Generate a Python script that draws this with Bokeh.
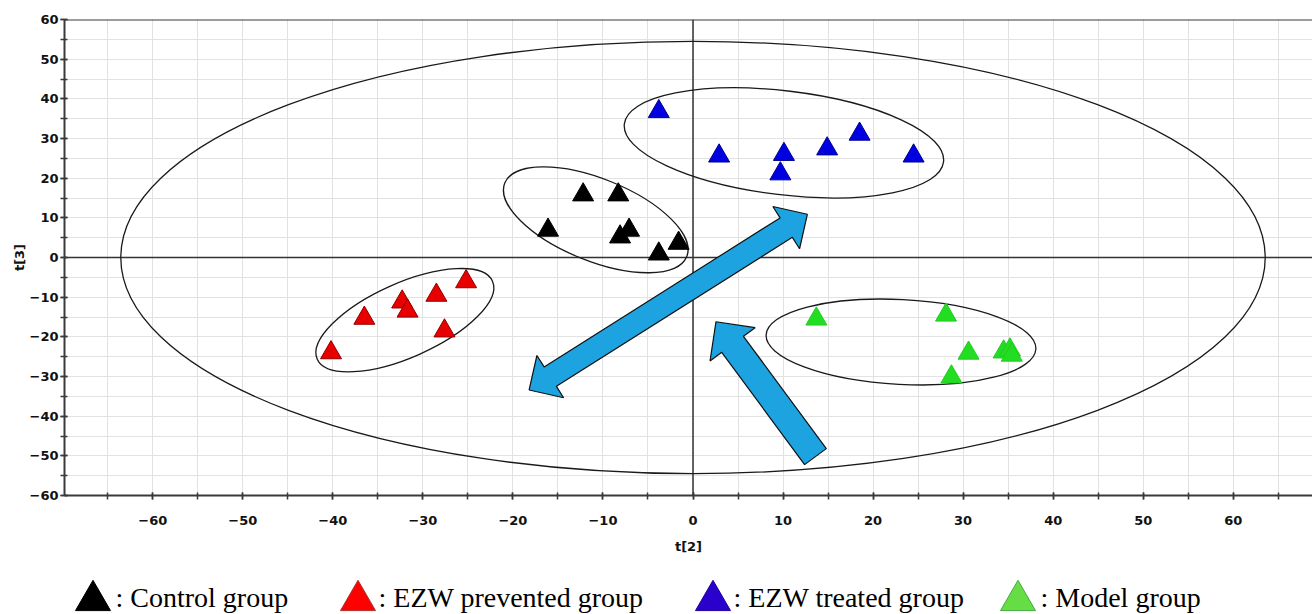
import math
from bokeh.plotting import figure
from bokeh.layouts import column
from bokeh.models import Range1d, Span, SingleIntervalTicker
from bokeh.core.properties import value
from bokeh.embed import file_html
from bokeh.resources import INLINE

# ---- data ----
control_x = [-16.1, -12.2, -8.3, -8.1, -7.1, -1.6, -3.8]
control_y = [6.9, 15.8, 15.8, 5.2, 6.9, 3.6, 0.9]
prevented_x = [-40.2, -36.5, -32.3, -31.7, -28.5, -27.6, -25.2]
prevented_y = [-24.0, -15.3, -11.2, -13.5, -9.5, -18.5, -6.1]
treated_x = [-3.8, 2.9, 10.1, 9.7, 14.9, 18.5, 24.5]
treated_y = [36.8, 25.6, 26.0, 21.1, 27.4, 31.1, 25.6]
model_x = [13.7, 28.1, 30.6, 28.7, 34.5, 35.2, 35.4]
model_y = [-15.5, -14.5, -24.1, -30.1, -23.8, -23.3, -24.6]

group_labels = [": Control group", ": EZW prevented group", ": EZW treated group", ": Model group"]
group_fill = ["#000000", "#e80000", "#0000e0", "#22dd22"]
group_line = ["#000000", "#900000", "#000090", "#22cc22"]
legend_fill = ["#000000", "#ff0000", "#2a00cc", "#66dd44"]
legend_line = ["#000000", "#b03030", "#20009a", "#44aa44"]

# ellipses: center x, center y, width (x units), height (y units), angle (deg, screen)
ell_x = [0.0, -32.0, -10.8, 10.1, 23.1]
ell_y = [0.0, -15.8, 9.5, 28.9, -21.3]
ell_w = [127.1, 21.3, 21.8, 35.7, 30.0]
ell_h = [109.0, 18.7, 20.7, 26.2, 21.4]
ell_a = [0.0, 24.0, -22.0, -6.8, -3.0]

x_axis_label = "t[2]"
y_axis_label = "t[3]"

# ---- layout ----
X0, X1 = -69.8, 68.8
Y0, Y1 = -60.0, 60.0
LEFT = 64
FW, FH = 1248, 476
kx = FW / (X1 - X0)
ky = FH / (Y1 - Y0)

p = figure(frame_width=FW, frame_height=FH,
           x_range=Range1d(X0, X1), y_range=Range1d(Y0, Y1),
           output_backend="svg", toolbar_location=None,
           min_border_left=LEFT, min_border_right=0,
           min_border_top=19, min_border_bottom=69)
p.outline_line_color = None
p.background_fill_color = "white"
p.border_fill_color = "white"

for ax in (p.xaxis[0], p.yaxis[0]):
    ax.ticker = SingleIntervalTicker(interval=10, num_minor_ticks=2)
    ax.axis_line_color = "#3a3a3a"
    ax.axis_line_width = 2
    ax.major_tick_line_color = "#3a3a3a"
    ax.minor_tick_line_color = "#3a3a3a"
    ax.major_tick_line_width = 1.5
    ax.minor_tick_line_width = 1.5
    ax.major_tick_in = 3
    ax.major_tick_out = 4
    ax.minor_tick_in = 3
    ax.minor_tick_out = 4
    ax.major_label_text_font = "DejaVu Sans"
    ax.major_label_text_font_style = "bold"
    ax.major_label_text_font_size = "13px"
    ax.major_label_text_color = "#111111"
    ax.axis_label_text_font = "DejaVu Sans"
    ax.axis_label_text_font_style = "bold"
    ax.axis_label_text_font_size = "13px"
    ax.axis_label_text_color = "#111111"

p.xaxis.axis_label = x_axis_label
p.yaxis.axis_label = y_axis_label
p.xaxis.major_label_standoff = 16
p.xaxis.axis_label_standoff = 11
p.yaxis.major_label_standoff = 2
p.yaxis.axis_label_standoff = 0

for g in (p.xgrid[0], p.ygrid[0]):
    g.ticker = SingleIntervalTicker(interval=10, num_minor_ticks=2)
    g.grid_line_color = "#e2e2e2"
    g.minor_grid_line_color = "#e2e2e2"
    g.grid_line_width = 1
    g.minor_grid_line_width = 1

# zero lines and top frame line
p.add_layout(Span(location=0, dimension="height", line_color="#333333", line_width=1.5, level="underlay"))
p.add_layout(Span(location=0, dimension="width", line_color="#333333", line_width=1.5, level="underlay"))
p.add_layout(Span(location=Y1, dimension="width", line_color="#3a3a3a", line_width=2))

# ellipses
p.ellipse(x=ell_x, y=ell_y, width=ell_w, height=ell_h,
          angle=[math.radians(a) for a in ell_a],
          fill_color=None, line_color="#1a1a1a", line_width=1.3)

# points
xs = [control_x, prevented_x, treated_x, model_x]
ys = [control_y, prevented_y, treated_y, model_y]
for i in range(4):
    p.scatter(xs[i], ys[i], marker="triangle", size=21,
              fill_color=group_fill[i], line_color=group_line[i], line_width=1)

# block arrows (geometry built in screen space, converted back to data)
def to_s(x, y):
    return ((x - X0) * kx, (y - Y0) * ky)

def to_d(sx, sy):
    return (sx / kx + X0, sy / ky + Y0)

def arrow_poly(start, end, L, H, W, double):
    ax_, ay_ = to_s(*start)
    bx_, by_ = to_s(*end)
    dx, dy = bx_ - ax_, by_ - ay_
    n = math.hypot(dx, dy)
    ux, uy = dx / n, dy / n
    nx, ny = -uy, ux
    pts = []
    bbx, bby = bx_ - L * ux, by_ - L * uy
    if double:
        bax, bay = ax_ + L * ux, ay_ + L * uy
        pts += [(ax_, ay_), (bax + H * nx, bay + H * ny), (bax + W * nx, bay + W * ny)]
    else:
        pts += [(ax_ + W * nx, ay_ + W * ny)]
    pts += [(bbx + W * nx, bby + W * ny), (bbx + H * nx, bby + H * ny), (bx_, by_),
            (bbx - H * nx, bby - H * ny), (bbx - W * nx, bby - W * ny)]
    if double:
        pts += [(bax - W * nx, bay - W * ny), (bax - H * nx, bay - H * ny)]
    else:
        pts += [(ax_ - W * nx, ay_ - W * ny)]
    d = [to_d(a, b) for a, b in pts]
    return [q[0] for q in d], [q[1] for q in d]

arrow_color = "#1ca3e0"
px1, py1 = arrow_poly((-18.2, -33.4), (12.7, 10.9), 25, 25, 11.5, True)
p.patch(px1, py1, fill_color=arrow_color, line_color="#111111", line_width=1.2)
px2, py2 = arrow_poly((13.6, -50.2), (2.55, -16.2), 28, 28, 13.5, False)
p.patch(px2, py2, fill_color=arrow_color, line_color="#111111", line_width=1.2)

# ---- legend row ----
TOTAL_W = LEFT + FW
LH = 50
lf = figure(width=TOTAL_W, height=LH, x_range=Range1d(LEFT, TOTAL_W), y_range=Range1d(0, LH),
            output_backend="svg", toolbar_location=None,
            x_axis_type=None, y_axis_type=None,
            min_border_left=LEFT, min_border_right=0, min_border_top=0, min_border_bottom=0)
lf.outline_line_color = None
lf.grid.visible = False
legend_tri_x = [92.5, 357.5, 712.5, 1017.5]
legend_txt_x = [115, 378, 733, 1040]
lf.scatter(legend_tri_x, [14] * 4, marker="triangle", size=35,
           fill_color=legend_fill, line_color=legend_line, line_width=1)
lf.text(legend_txt_x, [17] * 4, text=group_labels,
        text_font=value("Liberation Serif, serif"), text_font_size="28px",
        text_color="#000000", text_baseline="alphabetic", text_align="left")

layout = column(p, lf, spacing=0)
open("out.html", "w").write(file_html(layout, INLINE))
